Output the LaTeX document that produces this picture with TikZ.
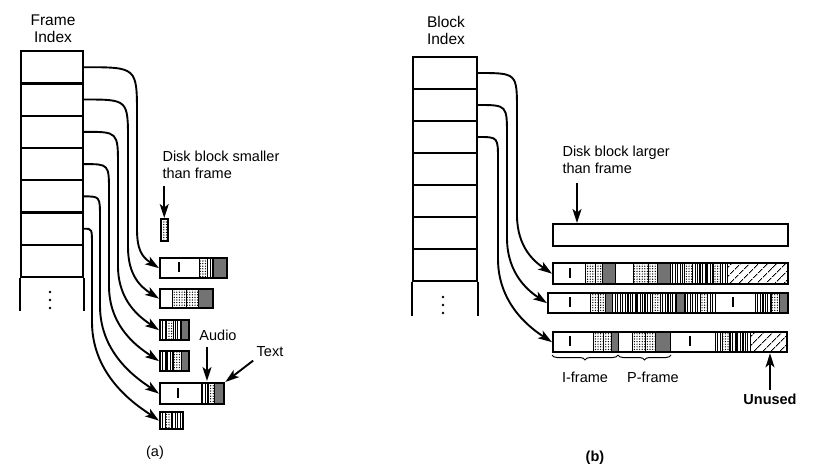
\documentclass[tikz,border=0pt]{standalone}
\usepackage{fontspec}
\setmainfont{Liberation Sans}
\usetikzlibrary{arrows.meta,patterns.meta,decorations.pathreplacing}
\newcommand\figfont{\fontsize{14.5}{16.5}\selectfont}
\newcommand\segs[3]{\foreach \a/\b/\sty in {#3} \draw[\sty] (\a,#1) rectangle (\b,#2);}
\tikzset{
  idx/.style={draw, line width=2.3pt, minimum width=62pt, minimum height=32.3pt, inner sep=0pt},
  blk/.style={draw, line width=2.3pt, anchor=north west, inner sep=0pt},
  seg/.style={draw, line width=1pt},
  splain/.style={seg},
  sdots/.style={seg, pattern={Dots[distance=2.6pt, radius=0.7pt]}},
  svert/.style={seg, pattern={Lines[angle=90, distance=2.5pt, line width=0.8pt]}},
  stext/.style={seg, fill=black!55},
  sunused/.style={seg, pattern={Lines[angle=45, distance=6.5pt, line width=1.1pt]}},
  imark/.style={line width=2pt},
  lnk/.style={->, line width=1.9pt}
}
\begin{document}
\begin{tikzpicture}[x=1pt, y=-1pt, >={Stealth[length=14pt,width=9pt,inset=3.5pt]}, every node/.style={font=\figfont}]
\useasboundingbox (0,0) rectangle (814,469);

\node[align=center, font=\fontsize{15.5}{17}\selectfont] (ftitle) at (53,29) {Frame\\Index};
\foreach \i in {1,...,7}
  \node[idx] (fa\i) at (52,{67.2+32.3*(\i-1)}) {};
\draw[line width=2.3pt] (fa7.south west) -- ++(0,33) (fa7.south east) -- ++(0,33);
\foreach \y in {292,300,308} \fill (50,\y) circle (1.3pt);

\node[anchor=west, align=left] (smalltxt) at (159,165) {Disk block smaller\\than frame};
\node[blk, sdots, line width=1.5pt, minimum width=7pt, minimum height=22pt] (sblk) at (160,218) {};
\draw[lnk] (sblk.north |- smalltxt.south) ++(0,4) -- (sblk.north);

\segs{257}{277}{159/199/splain,199/207/sdots,207/213/svert,213/226/stext}
\segs{288}{307}{159/172/splain,172/186/sdots,186/198/sdots,198/212/stext}
\segs{319}{339}{159/166/svert,166/173/sdots,173/181/svert,181/188/stext}
\segs{350}{370}{159/166/svert,166/173/svert,173/181/sdots,181/188/stext}
\segs{382}{403}{159/201/splain,201/208/svert,208/214/sdots,214/223/stext}
\segs{411}{428}{159/165/svert,165/171/sdots,171/177/svert,177/182/svert}
\node[blk, minimum width=67pt, minimum height=20pt] (a1) at (159,257) {};
\node[blk, minimum width=53pt, minimum height=19pt] (a2) at (159,288) {};
\node[blk, minimum width=29pt, minimum height=20pt] (a3) at (159,319) {};
\node[blk, minimum width=29pt, minimum height=20pt] (a4) at (159,350) {};
\node[blk, minimum width=64pt, minimum height=21pt] (a5) at (159,382) {};
\node[blk, minimum width=23pt, minimum height=17pt] (a6) at (159,411) {};

\draw[lnk] (fa1.east) .. controls (137,67.2) .. (137,115) -- (137,229) .. controls (137,250) and (142,257) .. (a1.west);
\draw[lnk] (fa2.east) .. controls (128,99.5) .. (128,141) -- (128,247) .. controls (128,276) and (141,287) .. (a2.west);
\draw[lnk] (fa3.east) .. controls (118,131.8) .. (118,166) -- (118,266) .. controls (118,302) and (141,318) .. (a3.west);
\draw[lnk] (fa4.east) .. controls (109,164.1) .. (109,192) -- (109,286) .. controls (109,329) and (141,349) .. (a4.west);
\draw[lnk] (fa5.east) .. controls (100,196.4) .. (100,218) -- (100,306) .. controls (100,356) and (141,381) .. (a5.west);
\draw[lnk] (fa6.east) .. controls (92,228.7) .. (92,245) -- (92,322) .. controls (92,379) and (141,408) .. (a6.west);

\node (audiolbl) at (218,335) {Audio};
\coordinate (audtip) at (207,381);
\draw[lnk] (audtip |- audiolbl.south) ++(0,3) -- (audtip);
\node (txtlbl) at (270,352) {Text};
\draw[lnk] (txtlbl.south west) -- (a5.north east);
\node (capa) at (155,453) {(a)};

\node[align=center, font=\fontsize{15.5}{17}\selectfont] (btitle) at (446,30) {Block\\Index};
\foreach \i in {1,...,7}
  \node[idx, minimum width=64pt, minimum height=32pt] (fb\i) at (445,{73+32*(\i-1)}) {};
\draw[line width=2.3pt] (fb7.south west) -- ++(0,34) (fb7.south east) -- ++(0,34);
\foreach \y in {297,305,313} \fill (443,\y) circle (1.3pt);

\node[anchor=west, align=left] (lgtxt) at (559,160) {Disk block larger\\than frame};
\node[blk, minimum width=235pt, minimum height=22pt] (b0) at (552,223) {};
\coordinate (lgtip) at (577,223);
\draw[lnk] (lgtip |- lgtxt.south) ++(0,6) -- (lgtip);

\segs{262}{283}{552/585/splain,585/595/sdots,595/602/sdots,602/615/stext,615/633/splain,633/648/sdots,648/657/sdots,657/670/stext,670/677/svert,677/684/svert,684/692/sdots,692/699/svert,699/706/svert,706/713/svert,713/720/sdots,720/727/svert,727/787/sunused}
\segs{292}{312}{547/590/splain,590/598/sdots,598/605/sdots,605/612/stext,612/620/svert,620/628/svert,628/636/svert,636/644/svert,644/652/svert,652/660/sdots,660/668/svert,668/676/svert,676/684/stext,684/692/svert,692/700/svert,700/707/sdots,707/715/svert,715/755/splain,755/763/svert,763/771/svert,771/779/sdots,779/787/stext}
\segs{331}{351}{552/593/splain,593/603/sdots,603/611/sdots,611/618/stext,618/632/splain,632/645/sdots,645/655/sdots,655/670/stext,670/715/splain,715/722/svert,722/729/sdots,729/736/svert,736/743/svert,743/750/svert,750/786/sunused}
\node[blk, minimum width=235pt, minimum height=21pt] (b1) at (552,262) {};
\node[blk, minimum width=240pt, minimum height=20pt] (b2) at (547,292) {};
\node[blk, minimum width=234pt, minimum height=20pt] (b3) at (552,331) {};

\foreach \x/\y in {179/267,178/392.5,570/272.5,570/302,733/302,570/341,690/341}
  \draw[imark] (\x,{\y-5}) -- (\x,{\y+5});

\draw[lnk] (fb1.east) .. controls (517,73) .. (517,111) -- (517,215) .. controls (517,248) and (535,262) .. (b1.west);
\draw[lnk] (fb2.east) .. controls (507,105) .. (507,136) -- (507,238) .. controls (507,275) and (530,292) .. (b2.west);
\draw[lnk] (fb3.east) .. controls (498,137) .. (498,160) -- (498,259) .. controls (498,307) and (535,331) .. (b3.west);

\draw[decorate, decoration={brace, mirror, amplitude=5pt}, line width=1pt] (552,355) -- (618,355);
\draw[decorate, decoration={brace, mirror, amplitude=5pt}, line width=1pt] (618,355) -- (671,355);
\node (ilbl) at (585,377) {I-frame};
\node (plbl) at (653,377) {P-frame};
\node[font=\figfont\bfseries] (unused) at (770,399) {Unused};
\draw[lnk] (unused.north) -- (unused.north |- b3.south);
\node[font=\figfont\bfseries] (capb) at (595,458) {(b)};
\end{tikzpicture}
\end{document}
